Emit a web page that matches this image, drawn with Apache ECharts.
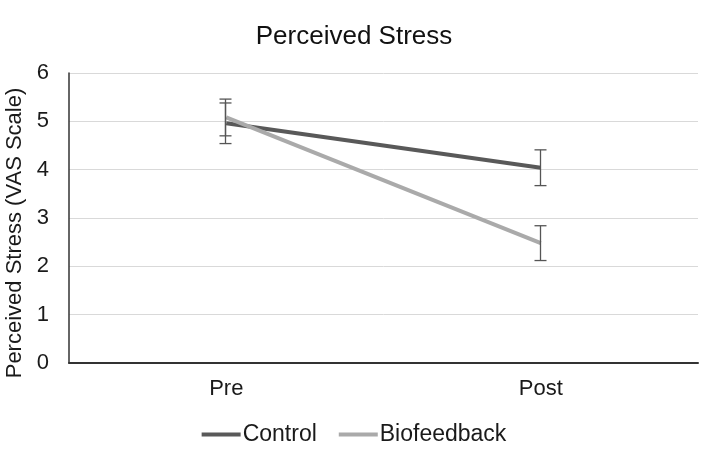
<!DOCTYPE html>
<html><head><meta charset="utf-8">
<script src="https://cdn.jsdelivr.net/npm/echarts@6/dist/echarts.min.js"></script>
<style>html,body{margin:0;padding:0;background:#fff}#c{width:708px;height:465px}</style>
</head><body><div id="c"></div>
<script>
const categories = ['Pre', 'Post'];
const controlMean = [4.96, 4.04];
const controlErr = [0.42, 0.37];
const bioMean = [5.08, 2.48];
const bioErr = [0.38, 0.36];
const yTicks = [0, 1, 2, 3, 4, 5, 6];

const FONT = 'Liberation Sans, Arial, sans-serif';

function errData(mean, err) {
  return mean.map((m, i) => [i, m - err[i], m + err[i]]);
}
function errSeries(name, mean, err) {
  return {
    type: 'custom', name: name + ' err', z: 5,
    data: errData(mean, err),
    renderItem: function (params, api) {
      const lo = api.coord([api.value(0), api.value(1)]);
      const hi = api.coord([api.value(0), api.value(2)]);
      const x = Math.round(lo[0]) - 0.5, w = 6;
      const st = { stroke: '#555', lineWidth: 1.3 };
      return { type: 'group', children: [
        { type: 'line', shape: { x1: x, y1: hi[1], x2: x, y2: lo[1] }, style: st },
        { type: 'line', shape: { x1: x - w, y1: hi[1], x2: x + w, y2: hi[1] }, style: st },
        { type: 'line', shape: { x1: x - w, y1: lo[1], x2: x + w, y2: lo[1] }, style: st }
      ]};
    },
    silent: true
  };
}

const chart = echarts.init(document.getElementById('c'), null, { renderer: 'canvas' });
chart.setOption({
  animation: false,
  backgroundColor: '#fff',
  title: { text: 'Perceived Stress', left: 'center', top: 19,
    textStyle: { fontFamily: FONT, fontSize: 26, fontWeight: 'normal', color: '#111' } },
  grid: { left: 69, right: 10, top: 73, bottom: 102, containLabel: false, outerBoundsMode: 'none' },
  legend: {
    bottom: 14, left: 'center', itemGap: 22, itemWidth: 39, itemHeight: 4, icon: 'rect',
    data: ['Control', 'Biofeedback'],
    textStyle: { fontFamily: FONT, fontSize: 23, color: '#1a1a1a', padding: [0, 0, 0, -3] }
  },
  xAxis: {
    type: 'category', data: categories, boundaryGap: true,
    axisLine: { lineStyle: { color: '#333', width: 2 } },
    axisTick: { show: false },
    axisLabel: { fontFamily: FONT, fontSize: 22, color: '#1a1a1a', margin: 15 }
  },
  yAxis: {
    type: 'value', min: 0, max: 6, interval: 1,
    name: 'Perceived Stress (VAS Scale)', nameLocation: 'middle', nameGap: 37,
    nameTextStyle: { fontFamily: FONT, fontSize: 22, color: '#1a1a1a', padding: [0, 30, 0, 0] },
    axisLine: { show: true, lineStyle: { color: '#333', width: 1.5 } },
    axisTick: { show: false },
    axisLabel: { fontFamily: FONT, fontSize: 22, color: '#1a1a1a', margin: 20,
      formatter: v => yTicks.includes(v) ? String(v) : '' },
    splitLine: { lineStyle: { color: '#d9d9d9', width: 1 } }
  },
  series: [
    { type: 'line', name: 'Control', data: controlMean, symbol: 'none', z: 3,
      lineStyle: { color: '#595959', width: 4 }, itemStyle: { color: '#595959' } },
    { type: 'line', name: 'Biofeedback', data: bioMean, symbol: 'none', z: 4,
      lineStyle: { color: '#aaaaaa', width: 4 }, itemStyle: { color: '#aaaaaa' } },
    errSeries('Control', controlMean, controlErr),
    errSeries('Biofeedback', bioMean, bioErr)
  ]
});
</script></body></html>
